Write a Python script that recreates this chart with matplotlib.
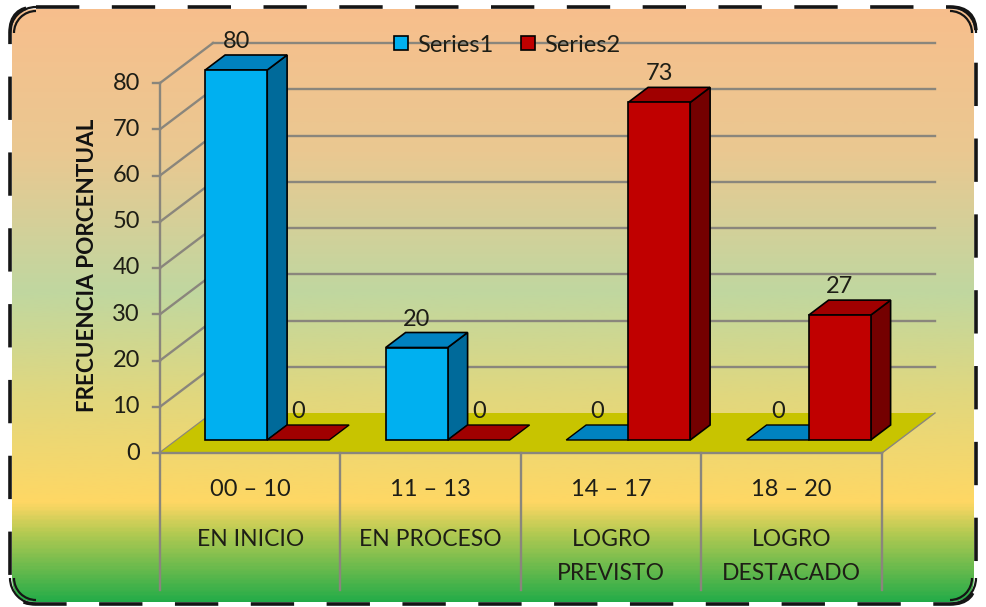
import numpy as np
import matplotlib
matplotlib.use("Agg")
import matplotlib.pyplot as plt
from matplotlib.patches import Polygon, FancyBboxPatch, Arc
from matplotlib.lines import Line2D
from matplotlib.colors import LinearSegmentedColormap

# ---------------- data ----------------
range_labels = ["00 – 10", "11 – 13", "14 – 17", "18 – 20"]
level_labels = ["EN INICIO", "EN PROCESO", "LOGRO\nPREVISTO", "LOGRO\nDESTACADO"]
series1 = [80, 20, 0, 0]
series2 = [0, 0, 73, 27]
series_names = ["Series1", "Series2"]
y_ticks = [0, 10, 20, 30, 40, 50, 60, 70, 80]
y_title = "FRECUENCIA PORCENTUAL"

# ---------------- styles ----------------
FONT = ["Lato", "DejaVu Sans"]
TXT = "#1e1e16"
GRID = "#8a867c"
FLOOR = "#C8C400"
S1 = dict(front="#00B0F0", top="#0082C0", side="#006A9A")
S2 = dict(front="#C00000", top="#A00000", side="#740000")
FS = 17

W, H = 987, 607
fig = plt.figure(figsize=(W / 100, H / 100), dpi=100)

# ---------------- background ----------------
bg = fig.add_axes([0, 0, 1, 1])
bg.set_xlim(0, W)
bg.set_ylim(H, 0)
bg.axis("off")
stops = [(0.00, (248, 190, 140)), (0.25, (234, 200, 145)), (0.48, (192, 215, 160)),
         (0.66, (226, 215, 125)), (0.83, (255, 215, 100)), (0.88, (180, 202, 82)),
         (1.00, (28, 170, 72))]
cmap = LinearSegmentedColormap.from_list("bgc", [(p, tuple(c / 255 for c in col)) for p, col in stops])
grad = np.linspace(0, 1, 400).reshape(-1, 1)
im = bg.imshow(grad, cmap=cmap, extent=[0, W, H, 0], aspect="auto", zorder=0)
clip = FancyBboxPatch((12, 9), W - 25, H - 14, boxstyle="round,pad=0,rounding_size=24",
                      transform=bg.transData, facecolor="none", edgecolor="none")
bg.add_patch(clip)
im.set_clip_path(clip)
border = FancyBboxPatch((10, 7), W - 21, H - 10, boxstyle="round,pad=0,rounding_size=26",
                        facecolor="none", edgecolor="#151515", lw=2.6,
                        linestyle=(0, (12, 9)), zorder=3)
bg.add_patch(border)
for (cx, cy, a1, a2) in [(36, 33, 180, 270), (W - 37, 33, 270, 360),
                         (36, H - 29, 90, 180), (W - 37, H - 29, 0, 90)]:
    for r in (52, 44):
        bg.add_patch(Arc((cx, cy), r, r, theta1=a1, theta2=a2, color="#151515", lw=1.6, zorder=3))

# ---------------- main chart axes ----------------
X0_PX, CAT_PX = 160, 180.5       # pixel of x=0, pixels per category
Y0_PX, UNIT_PX = 453, 4.625      # pixel of value 0, pixels per value unit
ax = fig.add_axes([0, 0, 1, 1])
ax.set_xlim(-X0_PX / CAT_PX, (W - X0_PX) / CAT_PX)
ax.set_ylim((Y0_PX - H) / UNIT_PX, Y0_PX / UNIT_PX)
ax.axis("off")
ax.patch.set_alpha(0)

DX = 53 / CAT_PX      # full floor depth, x
DY = 40 / UNIT_PX     # full floor depth, y
ncat = len(range_labels)
TABLE_BOTTOM = (Y0_PX - 590) / UNIT_PX

# floor
ax.add_patch(Polygon([(0, 0), (ncat, 0), (ncat + DX, DY), (DX, DY)], closed=True,
                     facecolor=FLOOR, edgecolor="none", zorder=1))
# gridlines
for v in y_ticks:
    ax.plot([0, DX], [v, v + DY], color=GRID, lw=1.7, zorder=0.5)
    if v > 0:
        ax.plot([DX, ncat + DX], [v + DY, v + DY], color=GRID, lw=1.7, zorder=0.5)
    ax.plot([-7 / CAT_PX, 0], [v, v], color=GRID, lw=1.7, zorder=2)
    ax.text(-20 / CAT_PX, v, str(v), ha="right", va="center", fontsize=FS,
            family=FONT, color=TXT, zorder=5)
ax.plot([ncat, ncat + DX], [0, DY], color=GRID, lw=1.0, zorder=1.2)
# axis + table lines
ax.plot([0, 0], [max(y_ticks), TABLE_BOTTOM], color=GRID, lw=1.7, zorder=2)
ax.plot([0, ncat], [0, 0], color=GRID, lw=1.7, zorder=2)
for i in range(1, ncat + 1):
    ax.plot([i, i], [0, TABLE_BOTTOM], color=GRID, lw=1.7, zorder=2)

# bars
F0, F1 = 0.325, 0.70
BW = 62 / CAT_PX
GAP = 28 / CAT_PX
d_x, d_y = (F1 - F0) * DX, (F1 - F0) * DY
for i in range(ncat):
    for k, (vals, col) in enumerate([(series1, S1), (series2, S2)]):
        h = vals[i]
        x0 = i + GAP + F0 * DX + k * BW
        y0 = F0 * DY
        top = [(x0, y0 + h), (x0 + BW, y0 + h), (x0 + BW + d_x, y0 + h + d_y), (x0 + d_x, y0 + h + d_y)]
        if h > 0:
            ax.add_patch(Polygon([(x0 + BW, y0), (x0 + BW + d_x, y0 + d_y),
                                  (x0 + BW + d_x, y0 + h + d_y), (x0 + BW, y0 + h)],
                                 closed=True, facecolor=col["side"], edgecolor="black", lw=1.2, zorder=3))
            ax.add_patch(Polygon(top, closed=True, facecolor=col["top"], edgecolor="black", lw=1.2, zorder=3))
            ax.add_patch(Polygon([(x0, y0), (x0 + BW, y0), (x0 + BW, y0 + h), (x0, y0 + h)],
                                 closed=True, facecolor=col["front"], edgecolor="black", lw=1.2, zorder=3))
        else:
            ax.add_patch(Polygon(top, closed=True, facecolor=col["top"], edgecolor="black", lw=1.0, zorder=3))
        ax.text(x0 + BW / 2, y0 + h + d_y + 3 / UNIT_PX, str(h), ha="center", va="bottom",
                fontsize=FS, family=FONT, color=TXT, zorder=2.5)

# category table labels
for i in range(ncat):
    ax.text(i + 0.5, (Y0_PX - 489) / UNIT_PX, range_labels[i], ha="center", va="center",
            fontsize=FS, family=FONT, color=TXT, zorder=5)
    for j, line in enumerate(level_labels[i].split("\n")):
        ax.text(i + 0.5, (Y0_PX - 540 - 33 * j) / UNIT_PX, line, ha="center", va="center",
                fontsize=FS - 0.5, family=FONT, color=TXT, zorder=5)

# y-axis title
ax.text((88 - X0_PX) / CAT_PX, 40.5, y_title, rotation=90, ha="center", va="center",
        fontsize=16.2, fontweight="bold", family=FONT, color="#111111", zorder=5)

# legend
handles = [Line2D([], [], marker="s", linestyle="none", markersize=10,
                  markerfacecolor=c["front"], markeredgecolor="black", markeredgewidth=1.2)
           for c in (S1, S2)]
leg = ax.legend(handles, series_names, loc="center", bbox_to_anchor=(506 / W, 1 - 45 / H),
                ncol=2, frameon=False, handlelength=0.8, handletextpad=0.25, columnspacing=1.1,
                prop={"family": FONT, "size": FS})
for t in leg.get_texts():
    t.set_color(TXT)

fig.savefig("out.png", dpi=100)
